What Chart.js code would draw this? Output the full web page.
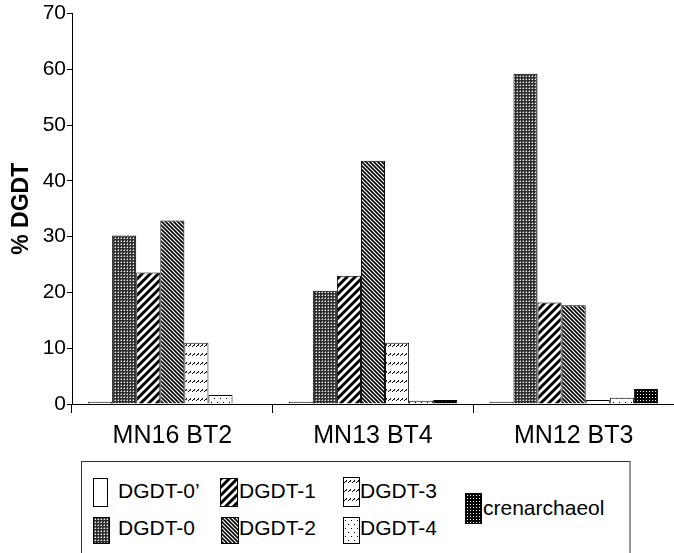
<!DOCTYPE html>
<html>
<head>
<meta charset="utf-8">
<script src="https://cdn.jsdelivr.net/npm/chart.js@4/dist/chart.umd.min.js"></script>
<style>
  html, body { margin: 0; padding: 0; background: #fff; }
  #wrap { position: relative; width: 674px; height: 553px; overflow: hidden; font-family: 'Liberation Sans', Arial, sans-serif; }
  #chart { position: absolute; left: 0; top: 0; }
  #legend { position: absolute; left: 81px; top: 461px; width: 547px; height: 110px;
            border-top: 1px solid #333; border-left: 1px solid #333; border-right: 2px solid #999; background: #fff; }
  .sw { position: absolute; border: 1px solid #000; box-sizing: border-box; }
  .lt { position: absolute; font-size: 21px; line-height: 24px; color: #000; white-space: nowrap; }
</style>
</head>
<body>
<div id="wrap">
  <canvas id="chart" width="674" height="553"></canvas>
  <div id="legend"></div>
</div>
<script>
// ---- data ----
const categories = ['MN16 BT2', 'MN13 BT4', 'MN12 BT3'];
const seriesNames = ["DGDT-0\u2019", 'DGDT-0', 'DGDT-1', 'DGDT-2', 'DGDT-3', 'DGDT-4', 'crenarchaeol'];
const dgdt0p = [0.4, 0.4, 0.4];
const dgdt0 = [30.2, 20.3, 59.2];
const dgdt1 = [23.6, 23.0, 18.2];
const dgdt2 = [32.9, 43.6, 17.7];
const dgdt3 = [11.0, 11.0, 0.7];
const dgdt4 = [1.6, 0.6, 1.1];
const crenarchaeol = [0, 0.7, 2.7];
const yTicks = [0, 10, 20, 30, 40, 50, 60, 70];

// ---- patterns ----
function tile(w, h, draw) {
  const c = document.createElement('canvas');
  c.width = w; c.height = h;
  const x = c.getContext('2d');
  draw(x, w, h);
  return c;
}
function px(x, col, i, j) { x.fillStyle = col; x.fillRect(i, j, 1, 1); }
const tiles = {
  white: tile(4, 4, (x, w, h) => { x.fillStyle = '#fff'; x.fillRect(0, 0, w, h); }),
  dots0: tile(3, 3, (x, w, h) => {
    x.fillStyle = '#2e2e2e'; x.fillRect(0, 0, w, h);
    px(x, '#e8e8e8', 1, 1); px(x, '#8a8a8a', 0, 1); px(x, '#8a8a8a', 1, 0);
  }),
  wide: tile(8, 8, (x, w, h) => {
    x.fillStyle = '#fff'; x.fillRect(0, 0, w, h);
    x.strokeStyle = '#000'; x.lineWidth = 3;
    x.beginPath();
    x.moveTo(-2, 10); x.lineTo(10, -2);
    x.moveTo(-6, 6); x.lineTo(6, -6);
    x.moveTo(2, 14); x.lineTo(14, 2);
    x.stroke();
  }),
  dense: tile(4, 4, (x, w, h) => {
    x.fillStyle = '#fff'; x.fillRect(0, 0, w, h);
    x.strokeStyle = '#000'; x.lineWidth = 1.6;
    x.beginPath();
    x.moveTo(-1, -1); x.lineTo(5, 5);
    x.moveTo(-1, 3); x.lineTo(1, 5);
    x.moveTo(3, -1); x.lineTo(5, 1);
    x.stroke();
  }),
  dash: tile(4, 9, (x, w, h) => {
    x.fillStyle = '#fff'; x.fillRect(0, 0, w, h);
    px(x, '#000', 2, 2); px(x, '#000', 1, 3); px(x, '#555', 2, 3); px(x, '#000', 0, 4);
  }),
  sparse: tile(6, 8, (x, w, h) => {
    x.fillStyle = '#fff'; x.fillRect(0, 0, w, h);
    px(x, '#000', 1, 2); px(x, '#000', 4, 6);
  }),
  cren: tile(3, 3, (x, w, h) => {
    x.fillStyle = '#000'; x.fillRect(0, 0, w, h);
    px(x, '#fff', 1, 1);
  })
};
const tileKeys = ['white', 'dots0', 'wide', 'dense', 'dash', 'sparse', 'cren'];
const ctx = document.getElementById('chart').getContext('2d');
const fills = tileKeys.map(k => ctx.createPattern(tiles[k], 'repeat'));
const seriesData = [dgdt0p, dgdt0, dgdt1, dgdt2, dgdt3, dgdt4, crenarchaeol];

Chart.defaults.font.family = "'Liberation Sans', Arial, sans-serif";
Chart.defaults.color = '#000';

new Chart(ctx, {
  type: 'bar',
  data: {
    labels: categories,
    datasets: seriesNames.map((n, i) => ({
      label: n,
      data: seriesData[i],
      backgroundColor: fills[i],
      borderColor: '#000',
      borderWidth: 1,
      categoryPercentage: 0.84,
      barPercentage: 1.0
    }))
  },
  options: {
    responsive: false,
    animation: false,
    devicePixelRatio: 1,
    layout: { padding: { top: 4, right: 0, left: 0, bottom: 0 } },
    plugins: { legend: { display: false }, tooltip: { enabled: false } },
    scales: {
      x: {
        offset: true,
        grid: { display: true, offset: true, drawOnChartArea: false, drawTicks: true, tickLength: 9, color: '#000' },
        border: { display: true, color: '#000', width: 1 },
        ticks: { font: { size: 25 }, color: '#000', padding: 8, maxRotation: 0 },
        afterFit: (s) => { s.height = 149; }
      },
      y: {
        min: 0, max: 70,
        afterBuildTicks: (s) => { s.ticks = yTicks.map(v => ({ value: v })); },
        grid: { display: true, drawOnChartArea: false, drawTicks: true, tickLength: 5, color: '#000' },
        border: { display: true, color: '#000', width: 1 },
        ticks: { font: { size: 21 }, color: '#000', padding: 1 },
        title: { display: true, text: '% DGDT', font: { size: 23, weight: 'bold' }, color: '#000', padding: { top: 8, bottom: 0 } },
        afterFit: (s) => { s.width = 72; }
      }
    }
  }
});

// ---- legend (HTML, text real) ----
const legend = document.getElementById('legend');
const L = 81, T = 461;
const items = [
  { i: 0, sx: 93, sy: 478, sw: 13, sh: 27, tx: 118, ty: 491 },
  { i: 2, sx: 220, sy: 478, sw: 16, sh: 27, tx: 239, ty: 491 },
  { i: 4, sx: 343, sy: 477, sw: 15, sh: 28, tx: 360, ty: 491 },
  { i: 1, sx: 93, sy: 517, sw: 15, sh: 25, tx: 118, ty: 528 },
  { i: 3, sx: 221, sy: 517, sw: 16, sh: 25, tx: 239, ty: 528 },
  { i: 5, sx: 343, sy: 517, sw: 15, sh: 25, tx: 360, ty: 528 },
  { i: 6, sx: 465, sy: 493, sw: 15, sh: 29, tx: 483, ty: 508 }
];
items.forEach(it => {
  const c = document.createElement('canvas');
  c.width = it.sw; c.height = it.sh;
  c.className = 'sw';
  c.style.left = (it.sx - L - 1) + 'px';
  c.style.top = (it.sy - T - 1) + 'px';
  const g = c.getContext('2d');
  g.fillStyle = g.createPattern(tiles[tileKeys[it.i]], 'repeat');
  g.fillRect(0, 0, it.sw, it.sh);
  legend.appendChild(c);
  const t = document.createElement('div');
  t.className = 'lt';
  t.textContent = seriesNames[it.i];
  t.style.left = (it.tx - L - 1) + 'px';
  t.style.top = (it.ty - 12 - T - 1) + 'px';
  legend.appendChild(t);
});
</script>
</body>
</html>
